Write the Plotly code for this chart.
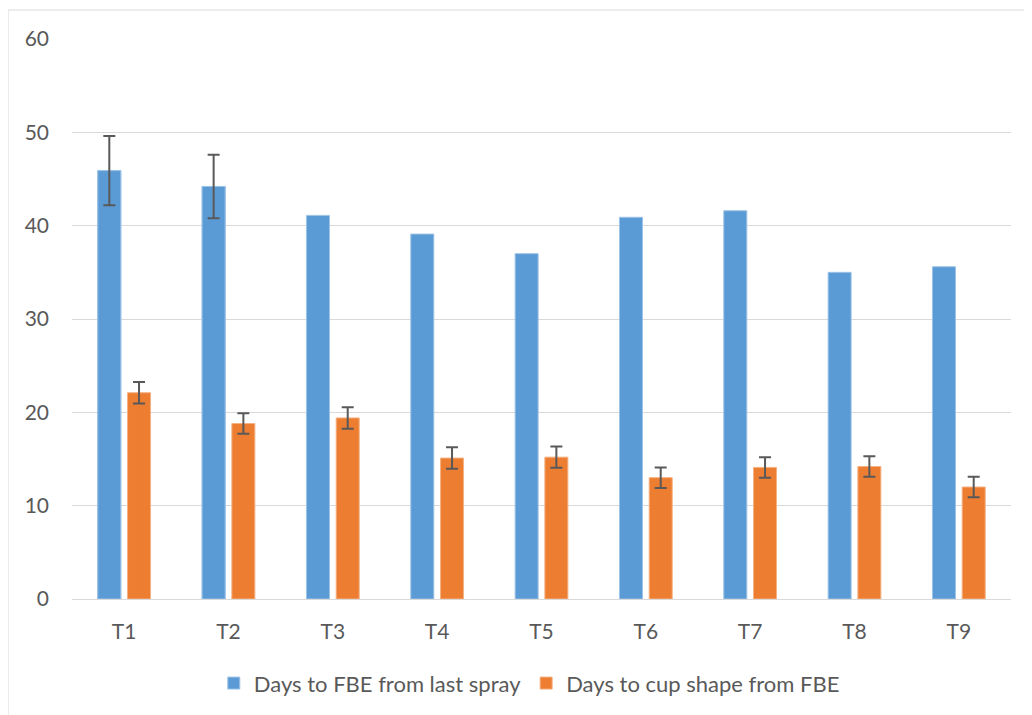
import plotly.graph_objects as go

categories = ["T1", "T2", "T3", "T4", "T5", "T6", "T7", "T8", "T9"]
fbe_days = [45.9, 44.2, 41.1, 39.1, 37.0, 40.9, 41.6, 35.0, 35.6]
fbe_err_categories = ["T1", "T2"]
fbe_err_values = [45.9, 44.2]
fbe_err = [3.7, 3.4]
cup_days = [22.1, 18.8, 19.4, 15.1, 15.2, 13.0, 14.1, 14.2, 12.0]
cup_err = [1.15, 1.1, 1.15, 1.15, 1.15, 1.1, 1.1, 1.1, 1.1]
series_names = ["Days to FBE from last spray", "Days to cup shape from FBE"]
y_ticks = [0, 10, 20, 30, 40, 50, 60]

blue = "#5B9BD5"
orange = "#ED7D31"
err_color = "#595959"
font_family = "Lato, Carlito, 'Liberation Sans', sans-serif"

fig = go.Figure()
fig.add_trace(go.Bar(
    x=categories, y=fbe_days, name=series_names[0], offsetgroup="a",
    marker=dict(color=blue, line=dict(color="#9DC3E6", width=1)),
))
fig.add_trace(go.Bar(
    x=fbe_err_categories, y=fbe_err_values, name=series_names[0], offsetgroup="a",
    showlegend=False, hoverinfo="skip",
    marker=dict(color=blue, line=dict(color="#9DC3E6", width=1)),
    error_y=dict(type="data", array=fbe_err, visible=True,
                 color=err_color, thickness=2, width=6),
))
fig.add_trace(go.Bar(
    x=categories, y=cup_days, name=series_names[1], offsetgroup="b",
    marker=dict(color=orange, line=dict(color="#F4B183", width=1)),
    error_y=dict(type="data", array=cup_err, visible=True,
                 color=err_color, thickness=2, width=6),
))

fig.update_layout(
    width=1032, height=715,
    paper_bgcolor="white", plot_bgcolor="white",
    margin=dict(l=64, r=29, t=31, b=124),
    barmode="group", bargap=0.43, bargroupgap=0.226,
    font=dict(family=font_family, size=20, color="#595959"),
    showlegend=True,
    legend=dict(orientation="h", x=0.487, xanchor="center", y=-0.113, yanchor="top",
                font=dict(size=22, color="#595959"), itemwidth=30,
                traceorder="normal"),
    xaxis=dict(showgrid=False, showline=True, linecolor="#D9D9D9", linewidth=1,
               ticks="", tickfont=dict(size=21, color="#595959"),
               ticklabelstandoff=14),
    yaxis=dict(range=[0, 60], tickvals=y_ticks, showgrid=True, gridcolor="#D9D9D9",
               gridwidth=1, zeroline=False, showline=False, ticks="",
               tickfont=dict(size=21, color="#595959"), ticklabelstandoff=22),
    shapes=[dict(type="rect", xref="paper", yref="paper",
                 x0=(8 - 72) / 939, x1=(1040 - 72) / 939,
                 y0=(599 - 730) / 560, y1=(599 - 10) / 560,
                 line=dict(color="#D9D9D9", width=1), fillcolor="rgba(0,0,0,0)",
                 layer="below")],
)

fig.write_html("out.html")
